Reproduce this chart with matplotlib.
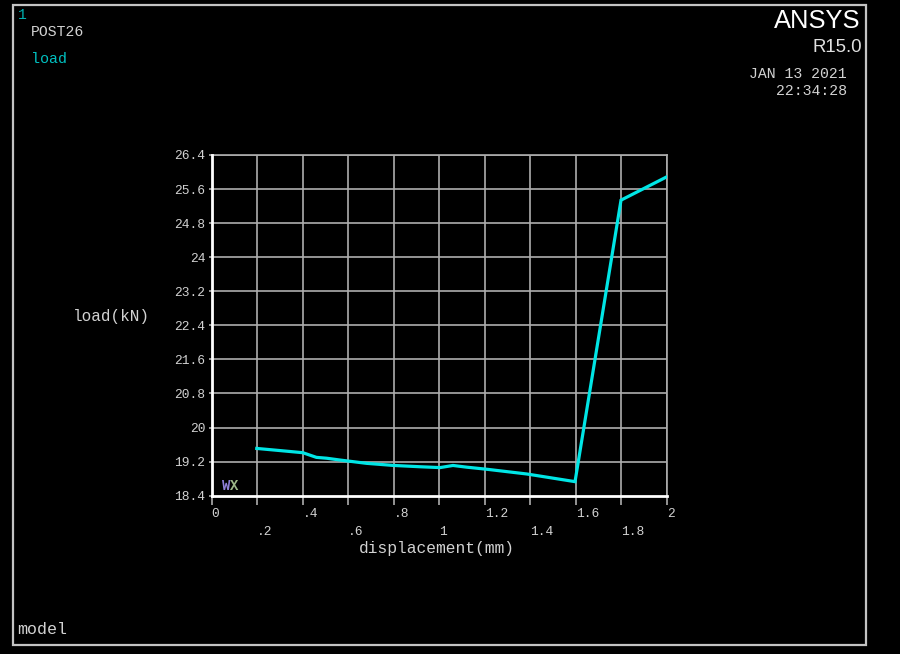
import matplotlib
matplotlib.use("Agg")
import matplotlib.pyplot as plt
from matplotlib.patches import Rectangle
from matplotlib.ticker import FixedLocator, FuncFormatter

# ---- data ----
displacement = [0.198, 0.40, 0.46, 0.505, 0.56, 0.68, 0.80, 0.915, 1.003, 1.06, 1.12,
                1.21, 1.384, 1.596, 1.798, 2.0]
load = [19.51, 19.41, 19.30, 19.28, 19.24, 19.16, 19.11, 19.08, 19.06, 19.11, 19.07,
        19.02, 18.91, 18.73, 25.34, 25.89]
x_major = [0, 0.4, 0.8, 1.2, 1.6, 2.0]
x_minor = [0.2, 0.6, 1.0, 1.4, 1.8]
y_ticks = [18.4, 19.2, 20.0, 20.8, 21.6, 22.4, 23.2, 24.0, 24.8, 25.6, 26.4]
y_labels = ["18.4", "19.2", "20", "20.8", "21.6", "22.4", "23.2", "24", "24.8", "25.6", "26.4"]

MONO = "Liberation Mono"
TXT = "#d2d2d2"
GRID = "#adadad"
CYAN = "#00e6e6"

fig = plt.figure(figsize=(9, 6.54), dpi=100, facecolor="black")
W, H = 900, 654

def fx(px):
    return px / W

def fy(py):
    return 1 - py / H

# outer frame
fig.patches.append(Rectangle((fx(12.5), fy(644.5)), fx(866) - fx(12.5), fy(5) - fy(644.5),
                             transform=fig.transFigure, fill=False, edgecolor="#c4c4c4",
                             linewidth=1.6))

ax = fig.add_axes([fx(211.7), fy(495.7), fx(667) - fx(211.7), fy(155) - fy(495.7)])
ax.set_facecolor("black")
ax.set_xlim(0, 2)
ax.set_ylim(18.4, 26.4)

# grid
for v in x_major + x_minor:
    if v > 0:
        ax.axvline(v, color=GRID, lw=1.2, zorder=1)
for v in y_ticks:
    if v > 18.4:
        ax.axhline(v, color=GRID, lw=1.2, zorder=1)

for s in ["top", "right"]:
    ax.spines[s].set_color(GRID)
    ax.spines[s].set_linewidth(1.2)
for s in ["left", "bottom"]:
    ax.spines[s].set_color("white")
    ax.spines[s].set_linewidth(2.0)
    ax.spines[s].set_zorder(3)

ax.plot(displacement, load, color=CYAN, lw=2.3, zorder=4, solid_joinstyle="miter")

def xfmt(v, pos=None):
    s = f"{v:.1f}".rstrip("0").rstrip(".")
    if s.startswith("0."):
        s = s[1:]
    return s

ax.xaxis.set_major_locator(FixedLocator(x_major))
ax.xaxis.set_minor_locator(FixedLocator(x_minor))
ax.xaxis.set_major_formatter(FuncFormatter(xfmt))
ax.xaxis.set_minor_formatter(FuncFormatter(xfmt))
ax.tick_params(axis="x", which="major", length=6.5, width=1.2, color=GRID, pad=2.5,
               labelsize=9.3, labelcolor=TXT)
ax.tick_params(axis="x", which="minor", length=6.5, width=1.2, color=GRID, pad=15.5,
               labelsize=9.3, labelcolor=TXT)
for lab in ax.get_xticklabels(which="both"):
    lab.set_fontfamily(MONO)
    lab.set_horizontalalignment("left")

ax.set_yticks(y_ticks)
ax.set_yticklabels(y_labels)
ax.tick_params(axis="y", length=2.5, width=1.2, color=GRID, pad=2.0, labelsize=9.3,
               labelcolor=TXT)
for lab in ax.get_yticklabels():
    lab.set_fontfamily(MONO)

# axis titles
fig.text(fx(437), fy(548), "displacement(mm)", family=MONO, fontsize=11.7, color=TXT,
         ha="center", va="center")
fig.text(fx(111.5), fy(316), "load(kN)", family=MONO, fontsize=11.5, color=TXT,
         ha="center", va="center")

# triad glyph
fig.text(fx(222), fy(486), "W", family=MONO, fontsize=10, color="#8f7fd8", ha="left",
         va="center", fontweight="bold")
fig.text(fx(230), fy(486), "X", family=MONO, fontsize=10, color="#b8d8a0", ha="left",
         va="center", fontweight="bold", alpha=0.85)

# header texts
fig.text(fx(18), fy(15), "1", family=MONO, fontsize=10.5, color="#00b0b0", ha="left",
         va="center")
fig.text(fx(31), fy(32), "POST26", family=MONO, fontsize=10.6, color=TXT, ha="left",
         va="center")
fig.text(fx(31), fy(59), "load", family=MONO, fontsize=10.8, color="#00c0c0", ha="left",
         va="center")
fig.text(fx(860), fy(21), "ANSYS", family="Liberation Sans", fontsize=18.4, color="white",
         ha="right", va="center")
fig.text(fx(862), fy(48), "R15.0", family="Liberation Sans", fontsize=13.4, color="#e0e0e0",
         ha="right", va="center")
fig.text(fx(847), fy(74), "JAN 13 2021", family=MONO, fontsize=10.7, color=TXT, ha="right",
         va="center")
fig.text(fx(847), fy(91), "22:34:28", family=MONO, fontsize=10.7, color=TXT, ha="right",
         va="center")
fig.text(fx(17), fy(630), "model", family=MONO, fontsize=12, color=TXT, ha="left",
         va="center")

fig.savefig("out.png", dpi=100, facecolor="black")
